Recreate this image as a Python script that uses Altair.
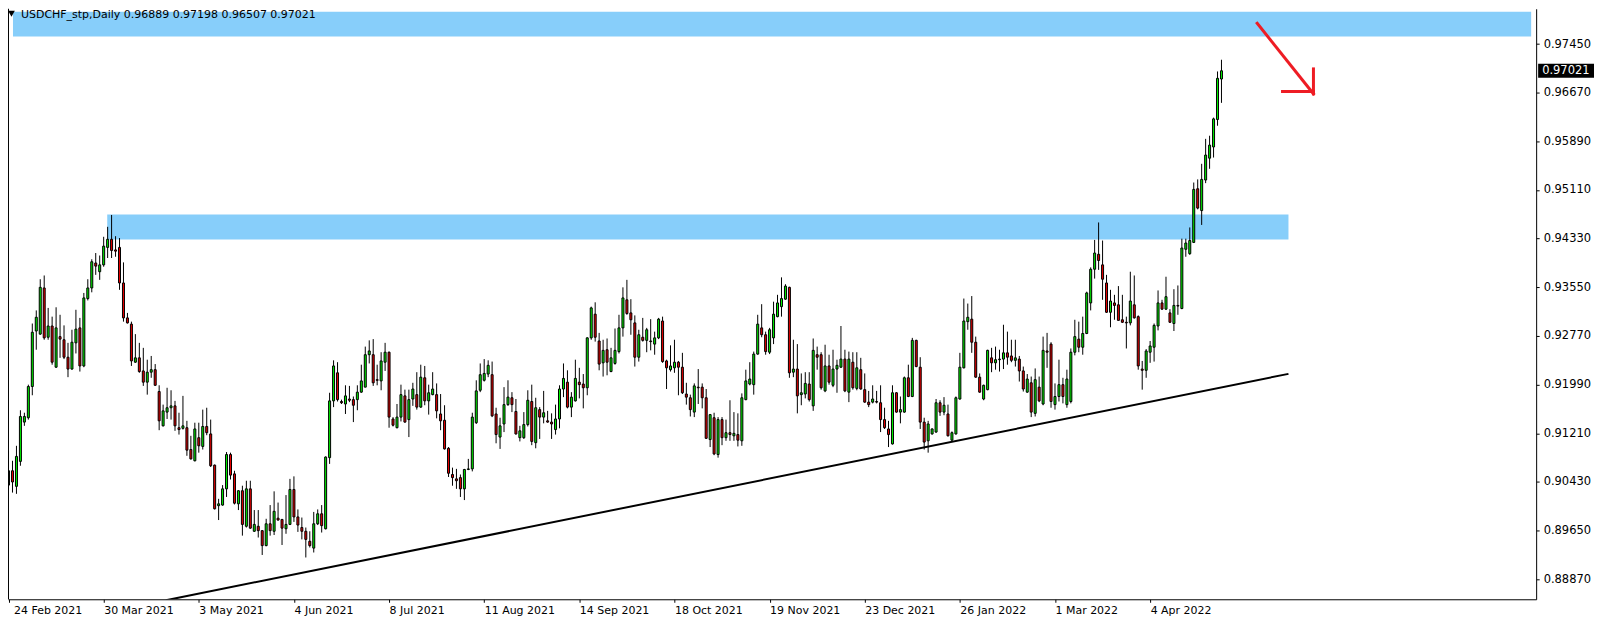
import altair as alt
import pandas as pd

# ---- daily OHLC (bar 0 = 24 Feb 2021) ----
opens = [
0.9038,0.9061,0.9036,0.9076,0.9139,0.9146,0.9196,0.9285,0.9280,0.9354,
0.9275,0.9293,0.9227,0.9276,0.9271,0.9243,0.9224,0.9266,0.9290,0.9229,
0.9337,0.9354,0.9394,0.9380,0.9391,0.9419,0.9432,0.9415,0.9419,0.9362,
0.9306,0.9296,0.9235,0.9242,0.9221,0.9203,0.9219,0.9223,0.9188,0.9133,
0.9155,0.9162,0.9165,0.9130,0.9129,0.9130,0.9095,0.9077,0.9114,0.9100,
0.9132,0.9120,0.9070,0.9005,0.9006,0.9032,0.9087,0.9056,0.9008,0.9029,
0.8972,0.9032,0.8964,0.8972,0.8965,0.8941,0.8976,0.8964,0.8985,0.8983,
0.8968,0.8975,0.9031,0.8987,0.8970,0.8964,0.8948,0.8937,0.8976,0.8992,
0.8968,0.9082,0.9173,0.9218,0.9172,0.9168,0.9176,0.9175,0.9175,0.9187,
0.9195,0.9247,0.9247,0.9207,0.9205,0.9235,0.9251,0.9144,0.9130,0.9147,
0.9181,0.9143,0.9176,0.9183,0.9163,0.9210,0.9173,0.9183,0.9183,0.9152,
0.9142,0.9097,0.9055,0.9048,0.9050,0.9032,0.9063,0.9064,0.9138,0.9190,
0.9206,0.9216,0.9215,0.9152,0.9115,0.9136,0.9167,0.9178,0.9156,0.9114,
0.9114,0.9135,0.9172,0.9106,0.9159,0.9147,0.9141,0.9139,0.9127,0.9144,
0.9192,0.9203,0.9163,0.9173,0.9203,0.9200,0.9194,0.9274,0.9312,0.9269,
0.9234,0.9255,0.9220,0.9233,0.9252,0.9290,0.9335,0.9314,0.9298,0.9243,
0.9275,0.9270,0.9269,0.9264,0.9274,0.9301,0.9237,0.9223,0.9226,0.9235,
0.9227,0.9184,0.9178,0.9155,0.9195,0.9195,0.9178,0.9111,0.9146,0.9087,
0.9143,0.9114,0.9122,0.9117,0.9119,0.9109,0.9175,0.9200,0.9199,0.9248,
0.9290,0.9279,0.9251,0.9274,0.9308,0.9324,0.9336,0.9355,0.9219,0.9224,
0.9183,0.9184,0.9200,0.9165,0.9247,0.9247,0.9189,0.9229,0.9198,0.9224,
0.9227,0.9240,0.9187,0.9235,0.9193,0.9223,0.9191,0.9171,0.9171,0.9172,
0.9170,0.9143,0.9128,0.9104,0.9186,0.9155,0.9155,0.9210,0.9180,0.9270,
0.9227,0.9139,0.9109,0.9120,0.9123,0.9170,0.9155,0.9152,0.9110,0.9120,
0.9176,0.9226,0.9300,0.9304,0.9267,0.9211,0.9176,0.9191,0.9242,0.9234,
0.9239,0.9240,0.9250,0.9245,0.9238,0.9240,0.9221,0.9187,0.9202,0.9153,
0.9195,0.9168,0.9253,0.9264,0.9167,0.9180,0.9199,0.9167,0.9172,0.9251,
0.9272,0.9259,0.9281,0.9330,0.9384,0.9408,0.9391,0.9362,0.9315,0.9330,
0.9327,0.9303,0.9299,0.9298,0.9327,0.9308,0.9224,0.9222,0.9251,0.9259,
0.9293,0.9330,0.9320,0.9314,0.9297,0.9326,0.9321,0.9416,0.9409,0.9427,
0.9513,0.9478,0.9527,0.9562,0.9580,0.9624,0.96889]
highs = [
0.9093,0.9077,0.9101,0.9158,0.9154,0.9199,0.9297,0.9318,0.9368,0.9374,
0.9322,0.9308,0.9323,0.9311,0.9294,0.9266,0.9287,0.9319,0.9306,0.9346,
0.9368,0.9400,0.9410,0.9406,0.9436,0.9452,0.9471,0.9437,0.9434,0.9395,
0.9314,0.9300,0.9280,0.9266,0.9258,0.9239,0.9245,0.9232,0.9198,0.9167,
0.9194,0.9190,0.9173,0.9154,0.9181,0.9141,0.9117,0.9138,0.9138,0.9159,
0.9162,0.9143,0.9071,0.9016,0.9038,0.9091,0.9090,0.9061,0.9030,0.9037,
0.9045,0.9045,0.8998,0.8998,0.8966,0.8984,0.9006,0.9028,0.9010,0.8983,
0.9022,0.9048,0.9052,0.8999,0.8986,0.8970,0.8964,0.8995,0.8999,0.9006,
0.9084,0.9186,0.9238,0.9235,0.9175,0.9198,0.9197,0.9180,0.9198,0.9231,
0.9260,0.9270,0.9272,0.9231,0.9251,0.9266,0.9252,0.9147,0.9168,0.9199,
0.9191,0.9191,0.9202,0.9219,0.9231,0.9229,0.9199,0.9219,0.9201,0.9184,
0.9166,0.9099,0.9066,0.9064,0.9055,0.9064,0.9080,0.9154,0.9206,0.9233,
0.9240,0.9238,0.9236,0.9162,0.9146,0.9195,0.9206,0.9187,0.9176,0.9133,
0.9155,0.9190,0.9199,0.9178,0.9163,0.9189,0.9157,0.9153,0.9167,0.9198,
0.9233,0.9222,0.9187,0.9239,0.9226,0.9216,0.9275,0.9324,0.9331,0.9282,
0.9271,0.9273,0.9258,0.9289,0.9311,0.9355,0.9367,0.9336,0.9310,0.9287,
0.9306,0.9290,0.9304,0.9284,0.9306,0.9308,0.9239,0.9262,0.9271,0.9237,
0.9250,0.9202,0.9183,0.9201,0.9224,0.9201,0.9192,0.9152,0.9154,0.9147,
0.9147,0.9143,0.9174,0.9155,0.9153,0.9185,0.9223,0.9235,0.9252,0.9311,
0.9328,0.9284,0.9290,0.9332,0.9343,0.9371,0.9360,0.9356,0.9271,0.9264,
0.9217,0.9219,0.9219,0.9273,0.9260,0.9251,0.9263,0.9247,0.9255,0.9239,
0.9293,0.9255,0.9252,0.9251,0.9251,0.9242,0.9217,0.9189,0.9198,0.9189,
0.9198,0.9162,0.9141,0.9198,0.9187,0.9180,0.9212,0.9231,0.9274,0.9271,
0.9243,0.9146,0.9141,0.9129,0.9176,0.9174,0.9179,0.9167,0.9124,0.9180,
0.9250,0.9337,0.9329,0.9341,0.9276,0.9217,0.9199,0.9255,0.9258,0.9260,
0.9255,0.9295,0.9284,0.9271,0.9271,0.9245,0.9228,0.9216,0.9212,0.9225,
0.9212,0.9276,0.9282,0.9267,0.9201,0.9239,0.9210,0.9223,0.9257,0.9303,
0.9300,0.9308,0.9348,0.9387,0.9431,0.9459,0.9430,0.9375,0.9351,0.9343,
0.9357,0.9343,0.9308,0.9380,0.9374,0.9310,0.9237,0.9256,0.9269,0.9297,
0.9350,0.9335,0.9372,0.9320,0.9352,0.9358,0.9433,0.9433,0.9451,0.9523,
0.9528,0.9553,0.9593,0.9598,0.9627,0.9701,0.97198]
lows = [
0.9031,0.9026,0.9024,0.9069,0.9133,0.9143,0.9182,0.9255,0.9279,0.9271,
0.9271,0.9231,0.9226,0.9242,0.9240,0.9211,0.9223,0.9249,0.9220,0.9227,
0.9334,0.9347,0.9375,0.9367,0.9388,0.9402,0.9402,0.9404,0.9351,0.9300,
0.9297,0.9229,0.9234,0.9218,0.9197,0.9183,0.9210,0.9197,0.9126,0.9132,
0.9144,0.9143,0.9125,0.9119,0.9127,0.9085,0.9079,0.9076,0.9090,0.9095,
0.9118,0.9067,0.8999,0.8982,0.9005,0.9019,0.9047,0.9007,0.8998,0.8957,
0.8970,0.8968,0.8963,0.8954,0.8926,0.8940,0.8957,0.8958,0.8981,0.8942,
0.8960,0.8974,0.8979,0.8963,0.8951,0.8922,0.8938,0.8930,0.8974,0.8962,
0.8967,0.9072,0.9163,0.9172,0.9168,0.9152,0.9171,0.9139,0.9158,0.9186,
0.9195,0.9233,0.9197,0.9198,0.9190,0.9221,0.9130,0.9132,0.9129,0.9140,
0.9138,0.9115,0.9165,0.9159,0.9162,0.9166,0.9151,0.9182,0.9145,0.9126,
0.9095,0.9051,0.9037,0.9032,0.9019,0.9014,0.9062,0.9060,0.9136,0.9187,
0.9204,0.9211,0.9147,0.9105,0.9096,0.9123,0.9165,0.9155,0.9119,0.9108,
0.9112,0.9132,0.9102,0.9097,0.9112,0.9137,0.9138,0.9112,0.9119,0.9129,
0.9179,0.9161,0.9147,0.9172,0.9177,0.9161,0.9182,0.9271,0.9268,0.9222,
0.9212,0.9214,0.9219,0.9231,0.9249,0.9276,0.9311,0.9279,0.9228,0.9236,
0.9268,0.9251,0.9254,0.9247,0.9272,0.9234,0.9192,0.9220,0.9218,0.9182,
0.9184,0.9167,0.9148,0.9147,0.9168,0.9161,0.9112,0.9099,0.9086,0.9082,
0.9102,0.9109,0.9109,0.9109,0.9100,0.9101,0.9174,0.9198,0.9183,0.9247,
0.9275,0.9247,0.9248,0.9264,0.9307,0.9308,0.9335,0.9210,0.9211,0.9153,
0.9166,0.9177,0.9172,0.9157,0.9223,0.9191,0.9187,0.9199,0.9195,0.9186,
0.9226,0.9187,0.9171,0.9191,0.9190,0.9191,0.9170,0.9163,0.9169,0.9169,
0.9123,0.9128,0.9099,0.9103,0.9154,0.9137,0.9154,0.9179,0.9179,0.9227,
0.9128,0.9095,0.9090,0.9119,0.9122,0.9149,0.9150,0.9116,0.9109,0.9119,
0.9175,0.9225,0.9287,0.9250,0.9210,0.9186,0.9174,0.9190,0.9219,0.9223,
0.9220,0.9224,0.9231,0.9235,0.9228,0.9204,0.9188,0.9186,0.9147,0.9148,
0.9171,0.9166,0.9226,0.9162,0.9159,0.9172,0.9169,0.9162,0.9169,0.9246,
0.9251,0.9247,0.9280,0.9318,0.9369,0.9383,0.9335,0.9314,0.9291,0.9303,
0.9302,0.9298,0.9257,0.9294,0.9305,0.9223,0.9191,0.9210,0.9234,0.9236,
0.9286,0.9319,0.9319,0.9298,0.9285,0.9311,0.9320,0.9404,0.9407,0.9426,
0.9480,0.9455,0.9522,0.9545,0.9563,0.9614,0.96507]
closes = [
0.9061,0.9043,0.9084,0.9148,0.9148,0.9196,0.9283,0.9307,0.9355,0.9274,
0.9293,0.9235,0.9290,0.9272,0.9243,0.9224,0.9267,0.9288,0.9229,0.9338,
0.9354,0.9396,0.9389,0.9391,0.9421,0.9432,0.9414,0.9413,0.9362,0.9306,
0.9298,0.9237,0.9242,0.9220,0.9203,0.9219,0.9223,0.9198,0.9141,0.9157,
0.9162,0.9165,0.9133,0.9127,0.9133,0.9094,0.9080,0.9128,0.9101,0.9132,
0.9122,0.9069,0.9000,0.9008,0.9032,0.9087,0.9054,0.9009,0.9029,0.8975,
0.9032,0.8969,0.8975,0.8965,0.8941,0.8976,0.8965,0.8996,0.8982,0.8969,
0.8975,0.9031,0.8987,0.8974,0.8964,0.8951,0.8941,0.8976,0.8992,0.8973,
0.9083,0.9173,0.9229,0.9175,0.9170,0.9181,0.9174,0.9166,0.9187,0.9205,
0.9247,0.9253,0.9202,0.9206,0.9237,0.9251,0.9147,0.9134,0.9147,0.9183,
0.9139,0.9175,0.9192,0.9163,0.9211,0.9173,0.9186,0.9192,0.9157,0.9141,
0.9096,0.9057,0.9050,0.9045,0.9032,0.9063,0.9064,0.9147,0.9189,0.9215,
0.9217,0.9230,0.9149,0.9119,0.9133,0.9167,0.9179,0.9167,0.9120,0.9125,
0.9135,0.9174,0.9108,0.9162,0.9147,0.9154,0.9139,0.9136,0.9144,0.9192,
0.9209,0.9163,0.9179,0.9209,0.9199,0.9194,0.9274,0.9322,0.9275,0.9232,
0.9254,0.9235,0.9242,0.9254,0.9290,0.9338,0.9313,0.9303,0.9243,0.9279,
0.9270,0.9287,0.9268,0.9274,0.9304,0.9236,0.9226,0.9229,0.9235,0.9227,
0.9186,0.9179,0.9159,0.9197,0.9194,0.9178,0.9113,0.9151,0.9088,0.9143,
0.9114,0.9122,0.9119,0.9121,0.9110,0.9178,0.9205,0.9208,0.9248,0.9296,
0.9279,0.9252,0.9287,0.9312,0.9330,0.9337,0.9357,0.9218,0.9224,0.9181,
0.9186,0.9201,0.9175,0.9254,0.9243,0.9194,0.9229,0.9203,0.9224,0.9230,
0.9240,0.9189,0.9240,0.9194,0.9226,0.9192,0.9171,0.9167,0.9176,0.9171,
0.9143,0.9130,0.9119,0.9186,0.9155,0.9159,0.9210,0.9180,0.9270,0.9228,
0.9139,0.9107,0.9136,0.9128,0.9170,0.9155,0.9166,0.9117,0.9122,0.9178,
0.9227,0.9301,0.9307,0.9267,0.9211,0.9187,0.9198,0.9254,0.9234,0.9239,
0.9240,0.9250,0.9243,0.9238,0.9242,0.9221,0.9192,0.9208,0.9155,0.9207,
0.9173,0.9254,0.9251,0.9172,0.9180,0.9199,0.9180,0.9208,0.9251,0.9276,
0.9259,0.9281,0.9346,0.9384,0.9410,0.9398,0.9368,0.9315,0.9333,0.9326,
0.9302,0.9299,0.9298,0.9333,0.9306,0.9229,0.9222,0.9253,0.9261,0.9294,
0.9330,0.9320,0.9340,0.9299,0.9326,0.9325,0.9418,0.9426,0.9430,0.9512,
0.9482,0.9528,0.9567,0.9583,0.9625,0.9690,0.97021]

# ---- axes ----
tick_bars = [0, 24, 48, 72, 96, 120, 144, 168, 192, 216, 240, 264, 288]
tick_dates = ["24 Feb 2021", "30 Mar 2021", "3 May 2021", "4 Jun 2021",
              "8 Jul 2021", "11 Aug 2021", "14 Sep 2021", "18 Oct 2021",
              "19 Nov 2021", "23 Dec 2021", "26 Jan 2022", "1 Mar 2022",
              "4 Apr 2022"]
price_ticks = [0.8887, 0.8965, 0.9043, 0.9121, 0.9199, 0.9277, 0.9355,
               0.9433, 0.9511, 0.9589, 0.9667, 0.9745]
header = "USDCHF_stp,Daily  0.96889 0.97198 0.96507 0.97021"

FONT = "DejaVu Sans"
W, H = 1532, 592
XDOM = [1.125, 384.125]
YDOM = [0.8855, 0.98015]
GREEN = "#00f000"
RED = "#e60000"
BLUE = "#87cefa"

# ---- drawn objects (bar index / price) ----
zone_top = {"x0": XDOM[0], "x1": XDOM[1], "lo": 0.97571, "hi": 0.97967}
zone_mid = {"x0": 24.9, "x1": 322.9, "lo": 0.94315, "hi": 0.94716}
trend = {"x0": 39.7, "y0": 0.88534, "x1": 322.9, "y1": 0.92163}
arrow_x0 = [315.0, 329.2, 321.4]
arrow_y0 = [0.97783, 0.97051, 0.96688]
arrow_x1 = [329.2, 329.2, 329.2]
arrow_y1 = [0.96651, 0.96651, 0.96688]

n = len(opens)
df = pd.DataFrame({
    "bar": list(range(n)),
    "open": opens, "high": highs, "low": lows, "close": closes,
})
df["top"] = df[["open", "close"]].max(axis=1)
df["bot"] = df[["open", "close"]].min(axis=1)

label_expr = "".join(f"datum.value == {b} ? '{d}' : " for b, d in zip(tick_bars, tick_dates)) + "''"

xs = alt.Scale(domain=XDOM, nice=False, zero=False)
ys = alt.Scale(domain=YDOM, nice=False, zero=False)

x_axis = alt.Axis(values=tick_bars, labelExpr=label_expr, labelAlign="left",
                  labelPadding=2, tickSize=3, grid=False, labelOverlap=False,
                  labelFlush=False, labelBound=False, domainColor="black",
                  tickColor="black", labelColor="black", title=None,
                  labelFontSize=11,
                  labelOffset={"condition": {"test": "datum.value == 0", "value": 5}, "value": 0})
y_axis = alt.Axis(values=price_ticks, format=".5f", orient="right", labelAlign="left",
                  labelPadding=4, tickSize=3, grid=False, labelOverlap=False,
                  labelFlush=False, domainColor="black", tickColor="black",
                  labelColor="black", title=None, labelFontSize=11.5)

band1 = alt.Chart(pd.DataFrame([zone_top])).mark_rect(color=BLUE).encode(
    x=alt.X("x0:Q", scale=xs, axis=x_axis), x2="x1:Q",
    y=alt.Y("lo:Q", scale=ys, axis=y_axis), y2="hi:Q")

band2 = alt.Chart(pd.DataFrame([zone_mid])).mark_rect(color=BLUE).encode(
    x=alt.X("x0:Q", scale=xs), x2="x1:Q",
    y=alt.Y("lo:Q", scale=ys), y2="hi:Q")

trendline = alt.Chart(pd.DataFrame([trend])).mark_rule(
    color="black", strokeWidth=2, clip=True).encode(
    x=alt.X("x0:Q", scale=xs), x2="x1:Q",
    y=alt.Y("y0:Q", scale=ys), y2="y1:Q")

wicks = alt.Chart(df).mark_rule(color="black", strokeWidth=1, clip=True).encode(
    x=alt.X("bar:Q", scale=xs), y=alt.Y("low:Q", scale=ys), y2="high:Q")

bodies = alt.Chart(df).mark_bar(width=2, stroke="black", strokeWidth=1, clip=True).encode(
    x=alt.X("bar:Q", scale=xs), y=alt.Y("top:Q", scale=ys), y2="bot:Q",
    fill=alt.condition("datum.close >= datum.open", alt.value(GREEN), alt.value(RED)))

arrow = alt.Chart(pd.DataFrame({"x0": arrow_x0, "y0": arrow_y0,
                                "x1": arrow_x1, "y1": arrow_y1})).mark_rule(
    color="#ee1c24", strokeWidth=3, strokeCap="square").encode(
    x=alt.X("x0:Q", scale=xs), x2="x1:Q",
    y=alt.Y("y0:Q", scale=ys), y2="y1:Q")

last = pd.DataFrame({"close": [closes[-1]], "label": [f"{closes[-1]:.5f}"]})
price_box = alt.Chart(last).mark_rule(color="black", strokeWidth=14).encode(
    y=alt.Y("close:Q", scale=ys), x=alt.value(W + 2), x2=alt.value(W + 58))
price_txt = alt.Chart(last).mark_text(
    color="white", align="left", baseline="middle", font=FONT, fontSize=11.5).encode(
    y=alt.Y("close:Q", scale=ys), x=alt.value(W + 6), text="label:N")

hdr = pd.DataFrame({"t": [header]})
title_txt = alt.Chart(hdr).mark_text(
    align="left", baseline="middle", font=FONT, fontSize=11, color="black").encode(
    x=alt.value(13), y=alt.value(6), text="t:N")
tri = alt.Chart(hdr).mark_point(shape="triangle-down", filled=True, color="black",
                                size=45, opacity=1).encode(
    x=alt.value(3.5), y=alt.value(5))

left_border = alt.Chart(hdr).mark_rule(color="black", strokeWidth=1).encode(
    x=alt.value(0.5), y=alt.value(0), y2=alt.value(H))

chart = alt.layer(
    band1, band2, trendline, wicks, bodies, arrow,
    price_box, price_txt, title_txt, tri, left_border
).properties(
    width=W, height=H,
    autosize=alt.AutoSizeParams(type="none"),
    padding={"left": 0, "top": 0, "right": 60, "bottom": 16}
).configure_view(
    stroke="transparent"
).configure_axis(
    labelFont=FONT
)

chart.save("out.html", embed_options={"renderer": "svg", "actions": False})
